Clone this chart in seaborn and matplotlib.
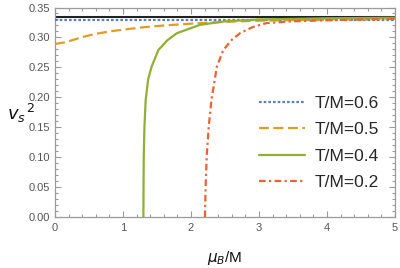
import numpy as np
import pandas as pd
import matplotlib
matplotlib.use("Agg")
import matplotlib.pyplot as plt
import seaborn as sns
from matplotlib.ticker import MultipleLocator

# values
mu_06 = [0.0, 5.0]
vs_06 = [0.3295, 0.3295]

mu_05 = [0.0, 0.15, 0.3, 0.45, 0.6, 0.8, 1.0, 1.3, 1.6, 2.0, 2.5, 3.0, 4.0, 5.0]
vs_05 = [0.289, 0.292, 0.297, 0.302, 0.306, 0.310, 0.313, 0.317, 0.320, 0.323, 0.326, 0.328, 0.330, 0.331]

mu_04 = [1.300, 1.302, 1.305, 1.315, 1.333, 1.37, 1.42, 1.52, 1.65, 1.79, 2.13, 2.5, 3.0, 4.0, 5.0]
vs_04 = [0.0, 0.05, 0.10, 0.15, 0.195, 0.23, 0.251, 0.279, 0.295, 0.307, 0.321, 0.327, 0.330, 0.332, 0.333]

mu_02 = [2.205, 2.215, 2.23, 2.26, 2.30, 2.38, 2.475, 2.6, 2.72, 2.9, 3.11, 3.5, 4.1, 5.0]
vs_02 = [0.0, 0.05, 0.10, 0.15, 0.195, 0.251, 0.279, 0.296, 0.307, 0.317, 0.324, 0.327, 0.329, 0.331]

conformal = 1.0 / 3.0

series = [
    ("T/M=0.6", mu_06, vs_06, "#5E81B5", (1.2, 0.9)),
    ("T/M=0.5", mu_05, vs_05, "#E19C24", (4.5, 2.0)),
    ("T/M=0.4", mu_04, vs_04, "#8FB032", None),
    ("T/M=0.2", mu_02, vs_02, "#EB6235", (3.0, 1.5, 1.0, 1.5)),
]

sns.set_style("ticks")
plt.rcParams['font.family'] = ['Liberation Sans', 'DejaVu Sans']

fig = plt.figure(figsize=(4, 2.68), dpi=100)
ax = fig.add_axes([0.1375, 0.19, 0.85, 0.782])

ax.axhline(conformal, color="#222222", lw=1.5, zorder=1)

for label, mu, vs, color, dash in series:
    df = pd.DataFrame({"mu": mu, "vs": vs})
    sns.lineplot(data=df, x="mu", y="vs", ax=ax, color=color, lw=1.6,
                 label=label, sort=False, zorder=3)
    if dash is not None:
        ax.lines[-1].set_dashes(dash)

ax.set_xlim(0, 5)
ax.set_ylim(0, 0.35)
ax.xaxis.set_major_locator(MultipleLocator(1))
ax.xaxis.set_minor_locator(MultipleLocator(0.2))
ax.yaxis.set_major_locator(MultipleLocator(0.05))
ax.yaxis.set_minor_locator(MultipleLocator(0.01))
ax.yaxis.set_major_formatter(matplotlib.ticker.FormatStrFormatter('%.2f'))

gray = "#9a9a9a"
for s in ax.spines.values():
    s.set_visible(True)
    s.set_color(gray)
    s.set_linewidth(0.9)
ax.tick_params(which="both", direction="in", top=True, right=True, color=gray,
               labelcolor="#555555", labelsize=8, width=0.8)
ax.tick_params(which="major", length=4)
ax.tick_params(which="minor", length=2)
ax.tick_params(axis="x", pad=4)

ax.set_xlabel(r"$\mu_B$/M", fontsize=11, color="#111111")
ax.set_ylabel(r"$v_s{}^{\,2}$", fontsize=13, rotation=0, color="#111111")
ax.yaxis.set_label_coords(-0.1, 0.44)
ax.xaxis.set_label_coords(0.5, -0.15)

leg = ax.legend(loc="lower right", frameon=False, fontsize=12.5,
                handlelength=2.6, handletextpad=0.6, labelspacing=0.64,
                bbox_to_anchor=(1.0, 0.055))

fig.savefig("out.png", dpi=100)
